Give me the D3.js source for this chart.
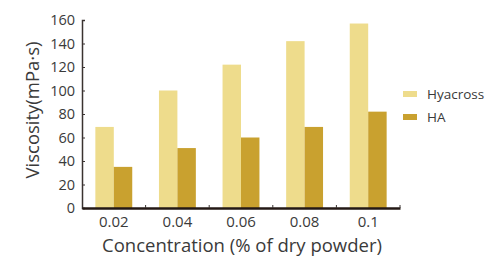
<!DOCTYPE html>
<html>
<head>
<meta charset="utf-8">
<script src="https://cdn.jsdelivr.net/npm/d3@7"></script>
<style>
  body { margin: 0; background: #fff; }
  text { font-family: "Open Sans", sans-serif; fill: #3a3a3a; }
</style>
</head>
<body>
<div id="chart"></div>
<script>
// chart data
var categories = ['0.02', '0.04', '0.06', '0.08', '0.1'];
var seriesNames = ['Hyacross', 'HA'];
var hyacross = [69, 100, 122, 142, 157];
var ha = [35, 51, 60, 69, 82];
var yTicks = [0, 20, 40, 60, 80, 100, 120, 140, 160];
var colors = ['#eedc8c', '#c9a12f'];

var W = 487, H = 257;
var margin = { top: 20, right: 87, bottom: 49, left: 82 };
var width = W - margin.left - margin.right;
var height = H - margin.top - margin.bottom;

var svg = d3.select('#chart')
    .append('svg')
    .attr('width', W)
    .attr('height', H)
    .append('g')
    .attr('transform', `translate(${margin.left},${margin.top})`);

// scales
var x0 = d3.scaleBand()
    .domain(categories)
    .range([0, width])
    .paddingInner(0.42)
    .paddingOuter(0.21);

var x1 = d3.scaleBand()
    .domain(seriesNames)
    .range([0, x0.bandwidth()]);

var y = d3.scaleLinear()
    .domain([0, 160])
    .range([height, 0]);

var rows = categories.map((c, i) => ({ cat: c, values: [hyacross[i], ha[i]] }));

// bars
var groups = svg.selectAll('.group')
    .data(rows)
    .enter()
    .append('g')
    .attr('transform', d => `translate(${x0(d.cat)},0)`);

groups.selectAll('rect')
    .data(d => d.values.map((v, i) => ({ name: seriesNames[i], value: v, i: i })))
    .enter()
    .append('rect')
    .attr('x', d => x1(d.name))
    .attr('y', d => y(d.value))
    .attr('width', x1.bandwidth())
    .attr('height', d => height - y(d.value))
    .attr('fill', d => colors[d.i]);

// y axis
var yAxis = svg.append('g')
    .call(d3.axisLeft(y).tickValues(yTicks).tickSize(-3).tickPadding(7));
yAxis.select('.domain').attr('stroke', '#3a3330').attr('stroke-width', 1.5);
yAxis.selectAll('.tick line').attr('stroke', '#3a3330');
yAxis.selectAll('.tick text').style('font-size', '14.5px').attr('fill', '#3a3a3a');

// x axis: labels under groups, ticks between them
var step = x0.step();
var xAxis = svg.append('g')
    .attr('transform', `translate(0,${height})`)
    .call(d3.axisBottom(x0).tickSize(0).tickPadding(8));
xAxis.select('.domain').attr('stroke', '#231815').attr('stroke-width', 2.5);
xAxis.selectAll('.tick text').style('font-size', '15px').attr('fill', '#3a3a3a');
xAxis.selectAll('.sep')
    .data(categories)
    .enter()
    .append('line')
    .attr('x1', (d, i) => (i + 1) * step)
    .attr('x2', (d, i) => (i + 1) * step)
    .attr('y1', 0)
    .attr('y2', -3)
    .attr('stroke', '#3a3330');

// axis titles
svg.append('text')
    .attr('x', width / 2 + 1)
    .attr('y', height + 44)
    .attr('text-anchor', 'middle')
    .style('font-size', '18.5px')
    .text('Concentration (% of dry powder)');

svg.append('text')
    .attr('transform', 'rotate(-90)')
    .attr('x', -(110 - margin.top))
    .attr('y', -43)
    .attr('text-anchor', 'middle')
    .style('font-size', '18.5px')
    .text('Viscosity(mPa·s)');

// legend
var legend = svg.append('g')
    .attr('transform', `translate(${width + 3},74)`);
seriesNames.forEach(function(name, i) {
    legend.append('rect')
        .attr('x', 0)
        .attr('y', i * 23 - 3)
        .attr('width', 14)
        .attr('height', 6)
        .attr('fill', colors[i]);
    legend.append('text')
        .attr('x', 24)
        .attr('y', i * 23)
        .attr('dy', '0.35em')
        .style('font-size', '13.5px')
        .text(name);
});
</script>
</body>
</html>
